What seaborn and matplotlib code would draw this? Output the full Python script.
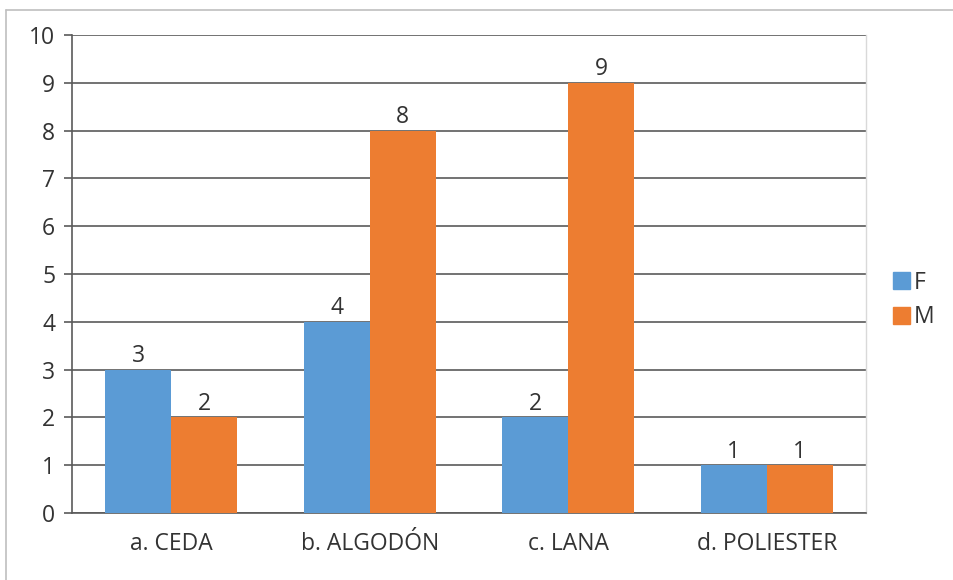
import numpy as np
import pandas as pd
import matplotlib
matplotlib.use("Agg")
import matplotlib.pyplot as plt
import seaborn as sns
from matplotlib.lines import Line2D

categorias = ["a. CEDA", "b. ALGODÓN", "c. LANA", "d. POLIESTER"]
valores_f = [3, 4, 2, 1]
valores_m = [2, 8, 9, 1]
sexos = ["F", "M"]
colores = ["#5B9BD5", "#ED7D31"]

df = pd.DataFrame({
    "categoria": categorias * 2,
    "sexo": ["F"] * len(categorias) + ["M"] * len(categorias),
    "valor": valores_f + valores_m,
})

sns.set_style("white")
plt.rcParams["font.family"] = ["Open Sans", "DejaVu Sans"]
txt = "#333333"

fig = plt.figure(figsize=(9.54, 5.80), dpi=100)
ax = fig.add_axes([72/954, 1-513/580, (866-72)/954, (513-35)/580])

sns.barplot(data=df, x="categoria", y="valor", hue="sexo", hue_order=sexos,
            palette=colores, width=0.667, gap=0, saturation=1, ax=ax,
            edgecolor="none", legend=False, zorder=3)

for cont in ax.containers:
    ax.bar_label(cont, fontsize=16.5, padding=1, color=txt)

ax.set_ylim(0, 10)
ax.set_xlim(-0.5, len(categorias) - 0.5)
ax.set_yticks(range(0, 11))
ax.yaxis.grid(True, color="#5a5a5a", linewidth=1.2, zorder=0)
ax.set_axisbelow(True)
ax.set_xlabel("")
ax.set_ylabel("")

# tick marks between categories
ax.set_xticks(np.arange(-0.5, len(categorias)), minor=True)
ax.tick_params(axis="x", which="major", length=0, pad=14, labelsize=16.5, labelcolor=txt)
ax.tick_params(axis="x", which="minor", length=8, width=1.2, color="#5a5a5a", direction="out")
ax.tick_params(axis="y", length=6, width=1.2, color="#5a5a5a", direction="out", pad=6,
               labelsize=16.5, labelcolor=txt, left=True)

for s in ["left", "bottom"]:
    ax.spines[s].set_color("#5a5a5a")
    ax.spines[s].set_linewidth(1.2)
ax.spines["top"].set_visible(False)
ax.spines["right"].set_color("#d9d9d9")
ax.spines["right"].set_linewidth(1)

handles = [plt.Rectangle((0, 0), 1, 1, color=c) for c in colores]
fig.legend(handles, sexos, loc="center left", bbox_to_anchor=(0.936, 1-300/580),
           frameon=False, fontsize=16.5, handlelength=0.75, handleheight=0.75,
           handletextpad=0.15, labelspacing=0.45, labelcolor=txt, borderpad=0, borderaxespad=0)

# chart border
fig.add_artist(Line2D([6.5/954, 6.5/954], [0, 1-10/580], color="#bfbfbf", lw=1.2, transform=fig.transFigure))
fig.add_artist(Line2D([6.5/954, 1], [1-10/580, 1-10/580], color="#bfbfbf", lw=1.2, transform=fig.transFigure))

fig.savefig("out.png", dpi=100)
